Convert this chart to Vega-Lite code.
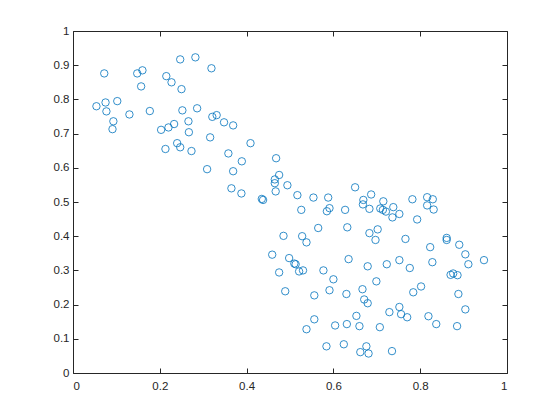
{
  "$schema": "https://vega.github.io/schema/vega-lite/v6.json",
  "width": 434,
  "height": 342,
  "autosize": {"type": "none"},
  "padding": {"left": 73, "top": 31, "right": 53, "bottom": 47},
  "background": "white",
  "config": {
    "view": {"stroke": null},
    "axis": {
      "grid": false,
      "domainColor": "#262626",
      "domainWidth": 1,
      "tickColor": "#262626",
      "tickWidth": 1,
      "tickSize": -5,
      "labelColor": "#262626",
      "labelFont": "Liberation Sans",
      "labelFontSize": 11.5,
      "title": null
    }
  },
  "data": {"values": [
    {"x":0.072,"y":0.876},{"x":0.054,"y":0.780},{"x":0.075,"y":0.791},{"x":0.077,"y":0.765},
    {"x":0.102,"y":0.795},{"x":0.093,"y":0.736},{"x":0.091,"y":0.713},{"x":0.130,"y":0.756},
    {"x":0.148,"y":0.876},{"x":0.160,"y":0.885},{"x":0.157,"y":0.838},{"x":0.177,"y":0.766},
    {"x":0.247,"y":0.917},{"x":0.282,"y":0.923},{"x":0.319,"y":0.891},{"x":0.215,"y":0.868},
    {"x":0.227,"y":0.850},{"x":0.250,"y":0.830},{"x":0.252,"y":0.768},{"x":0.286,"y":0.774},
    {"x":0.266,"y":0.736},{"x":0.233,"y":0.728},{"x":0.220,"y":0.718},{"x":0.203,"y":0.711},
    {"x":0.267,"y":0.704},{"x":0.321,"y":0.749},{"x":0.331,"y":0.754},{"x":0.316,"y":0.689},
    {"x":0.240,"y":0.672},{"x":0.247,"y":0.660},{"x":0.213,"y":0.655},{"x":0.273,"y":0.649},
    {"x":0.309,"y":0.596},{"x":0.348,"y":0.733},{"x":0.369,"y":0.724},{"x":0.409,"y":0.672},
    {"x":0.358,"y":0.642},{"x":0.389,"y":0.619},{"x":0.468,"y":0.628},{"x":0.369,"y":0.590},
    {"x":0.475,"y":0.579},{"x":0.465,"y":0.566},{"x":0.465,"y":0.555},{"x":0.494,"y":0.549},
    {"x":0.467,"y":0.531},{"x":0.365,"y":0.540},{"x":0.388,"y":0.525},{"x":0.435,"y":0.509},
    {"x":0.438,"y":0.506},{"x":0.517,"y":0.520},{"x":0.554,"y":0.513},{"x":0.588,"y":0.513},
    {"x":0.650,"y":0.543},{"x":0.526,"y":0.477},{"x":0.591,"y":0.482},{"x":0.585,"y":0.473},
    {"x":0.627,"y":0.477},{"x":0.565,"y":0.424},{"x":0.632,"y":0.426},{"x":0.485,"y":0.401},
    {"x":0.528,"y":0.400},{"x":0.538,"y":0.382},{"x":0.459,"y":0.346},{"x":0.498,"y":0.336},
    {"x":0.510,"y":0.320},{"x":0.513,"y":0.318},{"x":0.635,"y":0.333},{"x":0.475,"y":0.294},
    {"x":0.521,"y":0.297},{"x":0.530,"y":0.300},{"x":0.577,"y":0.300},{"x":0.600,"y":0.274},
    {"x":0.489,"y":0.239},{"x":0.556,"y":0.227},{"x":0.591,"y":0.242},{"x":0.630,"y":0.231},
    {"x":0.556,"y":0.157},{"x":0.538,"y":0.128},{"x":0.604,"y":0.139},{"x":0.631,"y":0.143},
    {"x":0.584,"y":0.078},{"x":0.624,"y":0.084},
    {"x":0.669,"y":0.506},{"x":0.668,"y":0.493},{"x":0.687,"y":0.522},{"x":0.683,"y":0.480},
    {"x":0.715,"y":0.502},{"x":0.708,"y":0.481},{"x":0.714,"y":0.477},{"x":0.721,"y":0.472},
    {"x":0.738,"y":0.485},{"x":0.736,"y":0.455},{"x":0.752,"y":0.465},{"x":0.782,"y":0.508},
    {"x":0.793,"y":0.449},{"x":0.816,"y":0.514},{"x":0.816,"y":0.490},{"x":0.829,"y":0.508},
    {"x":0.831,"y":0.478},{"x":0.683,"y":0.409},{"x":0.702,"y":0.420},{"x":0.697,"y":0.389},
    {"x":0.766,"y":0.392},{"x":0.823,"y":0.368},{"x":0.861,"y":0.395},{"x":0.861,"y":0.389},
    {"x":0.890,"y":0.375},{"x":0.904,"y":0.347},{"x":0.947,"y":0.330},{"x":0.679,"y":0.312},
    {"x":0.723,"y":0.318},{"x":0.752,"y":0.330},{"x":0.776,"y":0.307},{"x":0.828,"y":0.324},
    {"x":0.911,"y":0.318},{"x":0.870,"y":0.287},{"x":0.876,"y":0.291},{"x":0.886,"y":0.286},
    {"x":0.699,"y":0.268},{"x":0.802,"y":0.253},{"x":0.784,"y":0.236},{"x":0.667,"y":0.245},
    {"x":0.671,"y":0.215},{"x":0.679,"y":0.204},{"x":0.888,"y":0.231},{"x":0.904,"y":0.186},
    {"x":0.729,"y":0.178},{"x":0.752,"y":0.193},{"x":0.756,"y":0.172},{"x":0.770,"y":0.163},
    {"x":0.819,"y":0.166},{"x":0.837,"y":0.143},{"x":0.885,"y":0.137},{"x":0.653,"y":0.167},
    {"x":0.660,"y":0.137},{"x":0.707,"y":0.134},{"x":0.676,"y":0.078},{"x":0.662,"y":0.061},
    {"x":0.681,"y":0.057},{"x":0.735,"y":0.064}
  ]},
  "resolve": {"scale": {"x": "independent", "y": "independent"}},
  "layer": [
    {
      "mark": {"type": "point", "shape": "circle", "filled": false, "size": 55, "strokeWidth": 0.8, "color": "#0072BD", "opacity": 1},
      "encoding": {
        "x": {"field": "x", "type": "quantitative", "scale": {"domain": [0, 1], "nice": false, "zero": false},
              "axis": {"orient": "bottom", "values": [0, 0.2, 0.4, 0.6, 0.8, 1], "labelPadding": 12, "labelExpr": "datum.value == 0 ? '0' : datum.value == 1 ? '1' : format(datum.value, '.1f')"}},
        "y": {"field": "y", "type": "quantitative", "scale": {"domain": [0, 1], "nice": false, "zero": false},
              "axis": {"orient": "left", "values": [0, 0.1, 0.2, 0.3, 0.4, 0.5, 0.6, 0.7, 0.8, 0.9, 1], "labelPadding": 9, "labelExpr": "datum.value == 0 ? '0' : datum.value == 1 ? '1' : format(datum.value, '.1f')"}}
      }
    },
    {
      "mark": {"type": "point", "opacity": 0},
      "encoding": {
        "x": {"field": "x", "type": "quantitative", "scale": {"domain": [0, 1], "nice": false, "zero": false},
              "axis": {"orient": "top", "values": [0, 0.2, 0.4, 0.6, 0.8, 1], "labels": false}},
        "y": {"field": "y", "type": "quantitative", "scale": {"domain": [0, 1], "nice": false, "zero": false},
              "axis": {"orient": "right", "values": [0, 0.1, 0.2, 0.3, 0.4, 0.5, 0.6, 0.7, 0.8, 0.9, 1], "labels": false}}
      }
    }
  ]
}
